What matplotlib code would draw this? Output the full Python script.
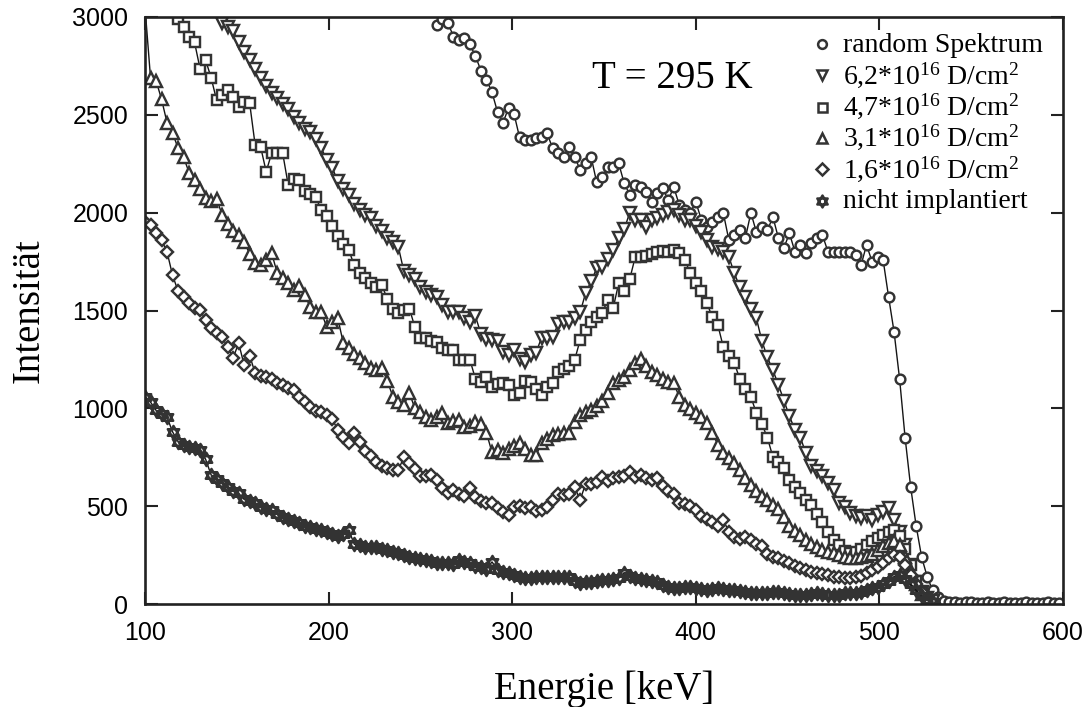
import numpy as np
import matplotlib
matplotlib.use("Agg")
import matplotlib.pyplot as plt
from matplotlib.path import Path

# ---------------- data (counts per 3 keV channel) ----------------
channel_keV = 3.0

random_start = 259
random_counts = [
    2960, 2990, 2970, 2900, 2880, 2895, 2860, 2800, 2725, 2680,
    2615, 2515, 2460, 2535, 2505, 2385, 2370, 2372, 2380, 2388,
    2405, 2330, 2305, 2285, 2335, 2285, 2220, 2255, 2285, 2155,
    2180, 2232, 2235, 2252, 2150, 2092, 2140, 2130, 2105, 2055,
    2100, 2125, 2065, 2130, 2040, 2015, 2000, 2055, 1965, 1925,
    1950, 1978, 1998, 1860, 1885, 1910, 1870, 2000, 1900, 1925,
    1910, 1978, 1870, 1820, 1895, 1800, 1835, 1795, 1845, 1870,
    1885, 1800, 1800, 1800, 1800, 1800, 1785, 1732, 1835, 1750,
    1775, 1760, 1570, 1390, 1150, 850, 600, 400, 240, 140,
    70, 35, 15, 10, 8, 7, 9, 8, 6, 7,
    8, 7, 6, 8, 7, 6, 7, 8, 6, 7,
    6, 8, 7, 6,
]

d62_start = 142
d62_counts = [
    2970, 2950, 2930, 2870, 2820, 2780, 2735, 2690, 2645, 2610,
    2585, 2555, 2530, 2490, 2460, 2430, 2410, 2375, 2330, 2270,
    2230, 2160, 2120, 2090, 2045, 2015, 1990, 1975, 1930, 1905,
    1870, 1850, 1825, 1700, 1680, 1660, 1620, 1595, 1580, 1570,
    1530, 1492, 1492, 1490, 1462, 1440, 1470, 1380, 1355, 1350,
    1345, 1290, 1272, 1300, 1250, 1235, 1272, 1285, 1362, 1358,
    1365, 1430, 1440, 1442, 1460, 1490, 1590, 1650, 1715, 1722,
    1765, 1810, 1870, 1915, 2000, 1965, 1962, 1925, 1960, 1975,
    1990, 2005, 2012, 1988, 1965, 1962, 1930, 1900, 1862, 1824,
    1815, 1800, 1775, 1690, 1620, 1570, 1510, 1460, 1345, 1260,
    1195, 1120, 1040, 960, 890, 850, 770, 705, 680, 655,
    620, 583, 515, 498, 465, 450, 440, 450, 430, 455,
    470, 490, 430, 370, 300, 200, 110, 60, 30, 15,
]

d47_start = 118
d47_counts = [
    2990, 2950, 2900, 2870, 2735, 2780, 2690, 2575, 2600, 2626,
    2590, 2540, 2565, 2560, 2345, 2335, 2210, 2304, 2304, 2304,
    2141, 2170, 2166, 2110, 2095, 2080, 2013, 1985, 1930, 1880,
    1840, 1809, 1730, 1690, 1665, 1640, 1622, 1628, 1560, 1510,
    1487, 1502, 1510, 1415, 1360, 1358, 1345, 1340, 1308, 1300,
    1298, 1247, 1247, 1247, 1150, 1134, 1160, 1109, 1125, 1129,
    1119, 1068, 1078, 1140, 1135, 1100, 1068, 1109, 1129, 1186,
    1200, 1215, 1247, 1349, 1400, 1441, 1467, 1487, 1553, 1512,
    1640, 1600, 1660, 1773, 1773, 1780, 1790, 1800, 1805, 1800,
    1809, 1795, 1760, 1690, 1640, 1600, 1540, 1465, 1426, 1313,
    1270, 1231, 1150, 1100, 1058, 976, 920, 850, 751, 725,
    695, 634, 600, 567, 531, 505, 460, 420, 370, 327,
    300, 270, 262, 265, 280, 300, 320, 335, 355, 370,
    380, 350, 280, 200, 120, 60, 25,
]

d31_start = 100
d31_counts = [
    3050, 2690, 2675, 2580, 2460, 2407, 2330, 2284, 2205, 2166,
    2120, 2075, 2060, 2070, 1990, 1940, 1905, 1886, 1850, 1790,
    1742, 1735, 1760, 1794, 1691, 1665, 1640, 1605, 1625, 1580,
    1518, 1490, 1492, 1415, 1440, 1461, 1334, 1308, 1280, 1255,
    1230, 1206, 1196, 1206, 1140, 1060, 1030, 1017, 1078, 1000,
    980, 955, 940, 956, 976, 925, 935, 940, 904, 910,
    928, 920, 874, 775, 787, 772, 790, 805, 823, 790,
    761, 761, 823, 845, 864, 870, 874, 874, 930, 966,
    980, 991, 1010, 1040, 1078, 1129, 1145, 1160, 1195, 1231,
    1252, 1215, 1185, 1170, 1150, 1135, 1129, 1058, 1015, 998,
    975, 956, 925, 874, 815, 770, 745, 720, 685, 645,
    610, 580, 550, 531, 505, 485, 445, 400, 375, 355,
    327, 305, 290, 276, 268, 261, 250, 240, 236, 235,
    238, 245, 258, 275, 295, 310, 320, 300, 240, 170,
    100, 50, 20,
]

d16_start = 100
d16_counts = [
    1950, 1935, 1895, 1860, 1800, 1680, 1600, 1570, 1540, 1515,
    1505, 1450, 1410, 1385, 1364, 1313, 1257, 1334, 1221, 1270,
    1180, 1165, 1158, 1148, 1130, 1119, 1105, 1093, 1058, 1030,
    1007, 985, 980, 965, 945, 890, 853, 823, 874, 830,
    780, 755, 726, 705, 695, 685, 685, 751, 720, 690,
    655, 652, 660, 634, 595, 567, 583, 560, 550, 593,
    545, 528, 518, 516, 490, 470, 455, 495, 500, 491,
    496, 475, 480, 495, 531, 560, 555, 560, 598, 531,
    615, 612, 625, 649, 628, 645, 648, 655, 674, 649,
    657, 645, 635, 644, 605, 580, 560, 516, 510, 500,
    480, 452, 435, 420, 398, 429, 370, 340, 330, 342,
    325, 308, 295, 255, 240, 236, 222, 208, 192, 182,
    174, 165, 158, 152, 146, 140, 137, 134, 134, 136,
    145, 158, 175, 190, 210, 235, 250, 240, 200, 150,
    100, 60, 30,
]

unimpl_start = 100
unimpl_counts = [
    1060, 1032, 990, 970, 955, 880, 830, 815, 800, 795,
    787, 740, 660, 640, 620, 598, 580, 565, 535, 525,
    516, 495, 488, 480, 460, 445, 432, 425, 414, 400,
    394, 385, 376, 368, 360, 345, 360, 378, 305, 300,
    292, 290, 291, 282, 276, 268, 260, 248, 240, 236,
    232, 226, 218, 210, 210, 212, 205, 225, 215, 210,
    195, 188, 180, 215, 175, 165, 158, 150, 138, 135,
    133, 136, 138, 140, 137, 138, 140, 138, 120, 107,
    110, 112, 118, 123, 123, 128, 133, 160, 145, 133,
    128, 123, 118, 112, 95, 87, 82, 84, 87, 85,
    82, 77, 72, 78, 82, 75, 72, 72, 65, 61,
    58, 56, 56, 56, 60, 61, 57, 52, 46, 46,
    46, 50, 56, 50, 46, 46, 48, 56, 56, 56,
    62, 72, 80, 87, 100, 120, 140, 150, 130, 100,
    70, 40, 20, 10,
]

series_labels = [
    "random Spektrum",
    r"6,2*10$^{\mathrm{16}}$ D/cm$^{\mathrm{2}}$",
    r"4,7*10$^{\mathrm{16}}$ D/cm$^{\mathrm{2}}$",
    r"3,1*10$^{\mathrm{16}}$ D/cm$^{\mathrm{2}}$",
    r"1,6*10$^{\mathrm{16}}$ D/cm$^{\mathrm{2}}$",
    "nicht implantiert",
]
x_ticks = [100, 200, 300, 400, 500, 600]
y_ticks = [0, 500, 1000, 1500, 2000, 2500, 3000]

# ---------------- style ----------------
plt.rcParams["font.family"] = ["Liberation Serif", "DejaVu Serif"]
plt.rcParams["mathtext.fontset"] = "custom"
plt.rcParams["mathtext.rm"] = "Liberation Serif"
plt.rcParams["mathtext.it"] = "Liberation Serif:italic"

# six-pointed star (two overlapping triangles)
s3 = np.sqrt(3) / 2
hexagram = Path(
    [(0, 1), (-s3, -0.5), (s3, -0.5), (0, 1),
     (0, -1), (-s3, 0.5), (s3, 0.5), (0, -1)],
    [Path.MOVETO, Path.LINETO, Path.LINETO, Path.CLOSEPOLY,
     Path.MOVETO, Path.LINETO, Path.LINETO, Path.CLOSEPOLY],
)

marker_styles = [
    dict(marker="o", ms=7.0),
    dict(marker="v", ms=8.6),
    dict(marker="s", ms=7.2),
    dict(marker="^", ms=8.6),
    dict(marker="D", ms=6.4),
    dict(marker=hexagram, ms=9.5),
]
edge = "#333333"

fig = plt.figure(figsize=(10.88, 7.07), dpi=100)
ax = fig.add_axes([145 / 1088, 1 - 604 / 707, 918 / 1088, 587 / 707])

datasets = [
    (random_start, random_counts),
    (d62_start, d62_counts),
    (d47_start, d47_counts),
    (d31_start, d31_counts),
    (d16_start, d16_counts),
    (unimpl_start, unimpl_counts),
]

for (start, counts), st, lab in zip(datasets, marker_styles, series_labels):
    energy = start + channel_keV * np.arange(len(counts))
    ax.plot(energy, counts, color="#151515", lw=1.0,
            mfc="white", mec=edge, mew=1.75, label=lab, **st)

ax.set_xlim(100, 600)
ax.set_ylim(0, 3000)
ax.set_xticks(x_ticks)
ax.set_yticks(y_ticks)
ax.tick_params(direction="in", length=9, width=1.5, top=True, right=True,
               labelsize=18, color="#222222")
ax.tick_params(axis="x", pad=12)
ax.tick_params(axis="y", pad=12)
for lab in ax.get_xticklabels() + ax.get_yticklabels():
    lab.set_fontfamily("Liberation Sans")
for sp in ax.spines.values():
    sp.set_linewidth(1.9)
    sp.set_color("#222222")

ax.set_xlabel("Energie [keV]", fontsize=28)
ax.xaxis.set_label_coords(0.5, (604 - 699) / 587)
ax.xaxis.label.set_va("baseline")
ax.set_ylabel("Intensität", fontsize=28)
ax.yaxis.set_label_coords((29 - 145) / 918, 0.5)
ax.yaxis.label.set_va("center")

ax.text((672 - 145) / 918, (604 - 88) / 587, "T = 295 K", fontsize=28,
        ha="center", va="baseline", transform=ax.transAxes)

# legend (drawn manually to match the row layout)
for i, (st, lab) in enumerate(zip(marker_styles, series_labels)):
    base_px = 52 + 31.3 * i
    leg_st = dict(st)
    leg_st["ms"] = st["ms"] * 0.9
    ax.plot([(822 - 145) / 918], [(604 - (base_px - 8)) / 587],
            transform=ax.transAxes, clip_on=False, linestyle="none",
            mfc="white", mec=edge, mew=1.8, **leg_st)
    ax.text((843 - 145) / 918, (604 - base_px) / 587, lab, fontsize=20,
            ha="left", va="baseline", transform=ax.transAxes)

fig.savefig("out.png", dpi=100)
